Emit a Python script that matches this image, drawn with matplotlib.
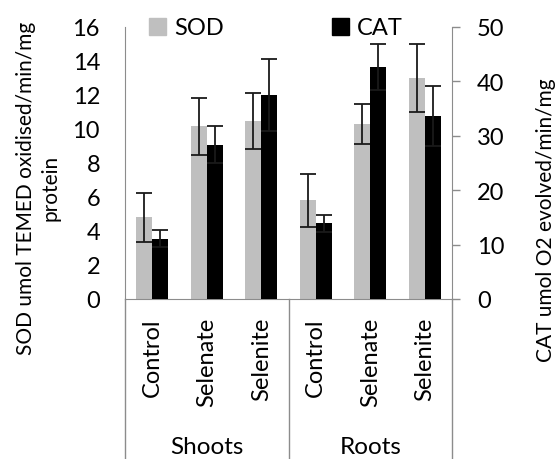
import numpy as np
import matplotlib
matplotlib.use("Agg")
import matplotlib.pyplot as plt
from matplotlib.patches import Patch

plt.rcParams['font.family'] = ['Lato', 'DejaVu Sans']

# values
groups = ['Shoots', 'Roots']
treatments = ['Control', 'Selenate', 'Selenite']
sod = [4.8, 10.15, 10.45, 5.8, 10.3, 13.0]
sod_err = [1.45, 1.7, 1.65, 1.55, 1.2, 2.0]
cat = [11.1, 28.4, 37.5, 13.9, 42.7, 33.6]
cat_err = [1.6, 3.4, 6.7, 1.5, 4.2, 5.5]

W, H = 560, 460
fig = plt.figure(figsize=(W / 100, H / 100), dpi=100)
ax = fig.add_axes([125 / W, 1 - 300 / H, 327 / W, 272 / H])
ax2 = ax.twinx()

x = np.arange(len(sod))
w = 0.29
axis_grey = '#8c8c8c'
err_kw = dict(ecolor='#1a1a1a', elinewidth=1.3, capsize=6, capthick=1.3)

ax.bar(x - w / 2, sod, w, color='#bfbfbf', yerr=sod_err, error_kw=err_kw)
ax2.bar(x + w / 2, cat, w, color='black', yerr=cat_err, error_kw=err_kw)

ax.set_xlim(-0.5, len(sod) - 0.5)
ax.set_ylim(0, 16)
ax.set_yticks(range(0, 17, 2))
ax2.set_ylim(0, 50)
ax2.set_yticks(range(0, 51, 10))

ax.set_xticks(x)
ax.set_xticklabels(treatments * len(groups), rotation=90, fontsize=17)
ax.tick_params(axis='x', length=0, pad=13)
ax.tick_params(axis='y', length=0, pad=18, labelsize=17)
ax2.tick_params(axis='y', length=6, width=1, color=axis_grey, pad=12, labelsize=17)

for a in (ax, ax2):
    a.spines['top'].set_visible(False)
    for s in ('left', 'right', 'bottom'):
        a.spines[s].set_color(axis_grey)
ax.spines['right'].set_visible(False)
ax2.spines['left'].set_visible(False)
ax2.spines['bottom'].set_visible(False)

# multi-level category axis: separators and group names
depth = -160 / 272
for xs in (0, 0.5, 1):
    ax.plot([xs, xs], [0, depth], transform=ax.transAxes, color=axis_grey,
            lw=1, clip_on=False)
for i, g in enumerate(groups):
    ax.text((i + 0.5) / len(groups), -147 / 272, g, transform=ax.transAxes,
            ha='center', va='center', fontsize=17.5)

fig.text(38 / W, 1 - 188 / H, 'SOD umol TEMED oxidised/min/mg\nprotein',
         rotation=90, ha='center', va='center', multialignment='center',
         fontsize=15, linespacing=1.25)
fig.text(546 / W, 1 - 220 / H, 'CAT umol O2 evolved/min/mg',
         rotation=90, ha='center', va='center', fontsize=15)

handles = [Patch(color='#bfbfbf', label='SOD'), Patch(color='black', label='CAT')]
ax2.legend(handles=handles, loc='center left', bbox_to_anchor=(24 / 327, 1 - 1 / 272),
           ncol=2, frameon=False, fontsize=17, handlelength=0.7, handleheight=0.7,
           handletextpad=0.35, columnspacing=4.6, borderpad=0, borderaxespad=0)

fig.savefig('out.png', dpi=100)
